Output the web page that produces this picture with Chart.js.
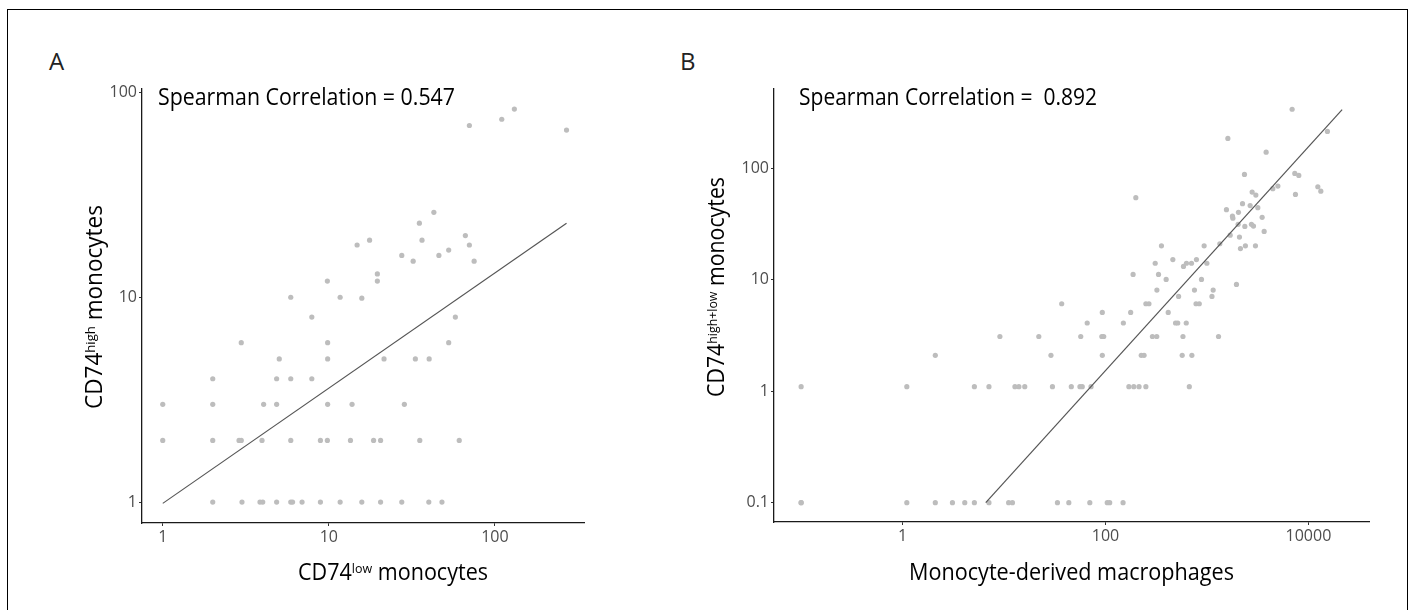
<!DOCTYPE html>
<html>
<head>
<meta charset="utf-8">
<script src="https://cdn.jsdelivr.net/npm/chart.js@4.4.0/dist/chart.umd.min.js"></script>
<style>
  body { margin: 0; background: #fff; width: 1411px; height: 610px; overflow: hidden; position: relative; font-family: "Open Sans", sans-serif; }
  #frame { position: absolute; left: 7px; top: 9px; width: 1399px; height: 660px; border: 1px solid #000; }
  .tag { position: absolute; font-size: 24px; line-height: 24px; color: #222; }
  #boxA { position: absolute; left: 0; top: 0; }
  #boxB { position: absolute; left: 700px; top: 0; }
</style>
</head>
<body>
<div id="frame"></div>
<div class="tag" style="left:49px; top:49px;">A</div>
<div class="tag" style="left:680px; top:49px;">B</div>
<canvas id="boxA" width="700" height="610"></canvas>
<canvas id="boxB" width="711" height="610"></canvas>
<script>
// ---- panel A: CD74 low vs CD74 high monocytes ----
const xA = [2, 3, 3.85, 4, 4.85, 5.9, 6.05, 6.9, 8.9, 11.7, 15.8, 20.5, 27.5, 40, 48,
            1, 2, 2.88, 2.97, 3.96, 5.9, 8.9, 9.8, 13.5, 18.6, 20.5, 35.3, 61,
            1, 2, 4.05, 4.85, 9.84, 13.8, 28.5,
            2, 4.85, 5.9, 7.9,
            5.03, 9.84, 21.5, 33.2, 40.2,
            2.97, 9.84, 52.7,
            7.9, 57.8,
            5.9, 11.7, 15.8,
            9.8, 19.6, 19.6,
            32.2, 75, 27.5, 46, 52.7,
            14.8, 70.2, 17.6, 36.4, 66.4, 35.1, 42.9,
            70.2, 110, 131, 270];
const yA = [1, 1, 1, 1, 1, 1, 1, 1, 1, 1, 1, 1, 1, 1, 1,
            2, 2, 2, 2, 2, 2, 2, 2, 2, 2, 2, 2, 2,
            3, 3, 3, 3, 3, 3, 3,
            4, 4, 4, 4,
            5, 5, 5, 5, 5,
            6, 6, 6,
            8, 8,
            10, 10, 9.9,
            12, 12, 13,
            15, 15, 16, 16, 17,
            18, 18, 19, 19, 20, 23, 26,
            69, 74, 83, 65.5];
const fitXA = [1, 270];
const fitYA = [0.985, 23];
const xTicksA = [1, 10, 100];
const yTicksA = [1, 10, 100];
const xRangeA = [0.75, 344];
const yRangeA = [0.79, 104];

// ---- panel B: macrophages vs CD74 high+low monocytes ----
const xB = [0.1, 0.1, 1.1, 2.1, 3.1, 4.1, 5.1, 7.1, 11.1, 12.1, 33.6, 43.5, 70, 104, 110, 149,
            0.1, 1.1, 5.1, 7.1, 12.8, 14, 16, 30, 46, 56, 59, 72, 170, 190, 214, 250, 670,
            2.1, 29, 93, 225, 240, 570, 710,
            9.1, 22, 57, 92, 96, 290, 320, 580, 1300,
            66, 150, 490, 515, 625,
            93, 177, 415,
            37, 250, 268, 780, 840,
            525, 1120,
            321, 753, 1151,
            1953,
            396, 883,
            187, 333,
            587,
            309, 628, 704, 998,
            461, 788,
            356, 938, 2393, 3006,
            2138, 1339, 2091, 1693, 3662, 2362, 2874, 2029, 2744,
            3499, 1800, 1783, 2044, 1556, 3172, 2665, 2240,
            199, 3033, 7450, 2788, 13250, 4458, 12380, 5000,
            8040, 2342, 7340, 3832, 1607, 15390, 6909];
const yB = [0.1, 0.1, 0.1, 0.1, 0.1, 0.1, 0.1, 0.1, 0.1, 0.1, 0.1, 0.1, 0.1, 0.1, 0.1, 0.1,
            1.1, 1.1, 1.1, 1.1, 1.1, 1.1, 1.1, 1.1, 1.1, 1.1, 1.1, 1.1, 1.1, 1.1, 1.1, 1.1, 1.1,
            2.1, 2.1, 2.1, 2.1, 2.1, 2.1, 2.1,
            3.1, 3.1, 3.1, 3.1, 3.1, 3.1, 3.1, 3.1, 3.1,
            4.1, 4.1, 4.1, 4.1, 4.1,
            5.1, 5.1, 5.1,
            6.1, 6.1, 6.1, 6.1, 6.1,
            7.1, 7.1,
            8.1, 8.1, 8.1,
            9.1,
            10.1, 10.1,
            11.2, 11.2,
            13.2,
            14.1, 14.1, 14.1, 14.1,
            15.2, 15.2,
            20.2, 20.2, 20.2, 20.2,
            19.1, 21.1, 24.2, 25.2, 27.2, 30.2, 30.4, 31.5, 31.5,
            36.4, 35.8, 37.3, 40.4, 42.7, 44.5, 46.4, 48.3,
            54.7, 57.7, 58.5, 61.4, 62.6, 65.8, 68.5, 69.5,
            86.7, 88.5, 90.3, 140, 186, 215, 340];
const fitXB = [6.6, 21500];
const fitYB = [0.1, 338];
const xTicksB = [1, 100, 10000];
const yTicksB = [0.1, 1, 10, 100];
const xRangeB = [0.054, 40000];
const yRangeB = [0.067, 517];

function zip(xs, ys) {
    return xs.map((x, i) => ({ x: x, y: ys[i] }));
}

// draws text pieces (with superscripts), stretched to the width they take in the figure
function drawParts(ctx, t) {
    const supSize = t.size * 0.58;
    const fontFor = p => (p[1] ? supSize : t.size) + 'px "Open Sans", sans-serif';
    ctx.save();
    let natural = 0;
    t.parts.forEach(p => { ctx.font = fontFor(p); natural += ctx.measureText(p[0]).width; });
    ctx.translate(t.x, t.y);
    if (t.rotate) ctx.rotate(-Math.PI / 2);
    ctx.scale(t.width / natural, 1);
    let cx = t.align === 'center' ? -natural / 2 : 0;
    ctx.fillStyle = '#000';
    ctx.textBaseline = 'alphabetic';
    ctx.textAlign = 'left';
    t.parts.forEach(p => {
        ctx.font = fontFor(p);
        ctx.fillText(p[0], cx, p[1] ? -t.size * 0.3 : 0);
        cx += ctx.measureText(p[0]).width;
    });
    ctx.restore();
}

function textPlugin(items) {
    return {
        id: 'panelText',
        afterDraw(chart) {
            items.forEach(t => drawParts(chart.ctx, t));
        }
    };
}

function logAxis(ticks, range, isX) {
    return {
        type: 'logarithmic',
        bounds: 'data',
        min: range[0],
        max: range[1],
        afterBuildTicks: s => { s.ticks = ticks.map(v => ({ value: v })); },
        afterFit: s => { if (isX) s.height = 40; else s.width = 50; },
        ticks: {
            color: '#4d4d4d',
            font: { family: 'Open Sans', size: 16 },
            padding: 2,
            autoSkip: false,
            maxRotation: 0,
            callback: v => String(v)
        },
        grid: { display: true, drawOnChartArea: false, drawTicks: true, tickLength: 3, color: '#333', lineWidth: 1 },
        border: { display: true, color: '#1a1a1a', width: 1.3 }
    };
}

function makeChart(id, pts, fit, xTicks, yTicks, xRange, yRange, padding, items) {
    return new Chart(document.getElementById(id), {
        type: 'scatter',
        data: {
            datasets: [
                {
                    data: fit,
                    showLine: true,
                    borderColor: '#555',
                    borderWidth: 1.2,
                    pointRadius: 0
                },
                {
                    data: pts,
                    pointRadius: 2.6,
                    pointBackgroundColor: '#bdbdbd',
                    pointBorderWidth: 0
                }
            ]
        },
        options: {
            responsive: false,
            animation: false,
            layout: { padding: padding },
            plugins: { legend: { display: false }, tooltip: { enabled: false } },
            scales: {
                x: logAxis(xTicks, xRange, true),
                y: logAxis(yTicks, yRange, false)
            }
        },
        plugins: [textPlugin(items)]
    });
}

makeChart('boxA', zip(xA, yA), zip(fitXA, fitYA), xTicksA, yTicksA, xRangeA, yRangeA,
    { left: 92, right: 116, top: 89, bottom: 47 },
    [
        { parts: [['Spearman Correlation = 0.547', false]], size: 23, x: 158, y: 105, width: 297, align: 'left' },
        { parts: [['CD74', false], ['low', true], [' monocytes', false]], size: 23, x: 393, y: 580, width: 190, align: 'center' },
        { parts: [['CD74', false], ['high', true], [' monocytes', false]], size: 23, x: 102, y: 307, width: 204, align: 'center', rotate: true }
    ]);

makeChart('boxB', zip(xB, yB), zip(fitXB, fitYB), xTicksB, yTicksB, xRangeB, yRangeB,
    { left: 24, right: 41.5, top: 89, bottom: 48 },
    [
        { parts: [['Spearman Correlation =  0.892', false]], size: 23, x: 99, y: 105, width: 298, align: 'left' },
        { parts: [['Monocyte-derived macrophages', false]], size: 23, x: 371.5, y: 580, width: 325, align: 'center' },
        { parts: [['CD74', false], ['high+low', true], [' monocytes', false]], size: 23, x: 24, y: 287, width: 220, align: 'center', rotate: true }
    ]);
</script>
</body>
</html>
